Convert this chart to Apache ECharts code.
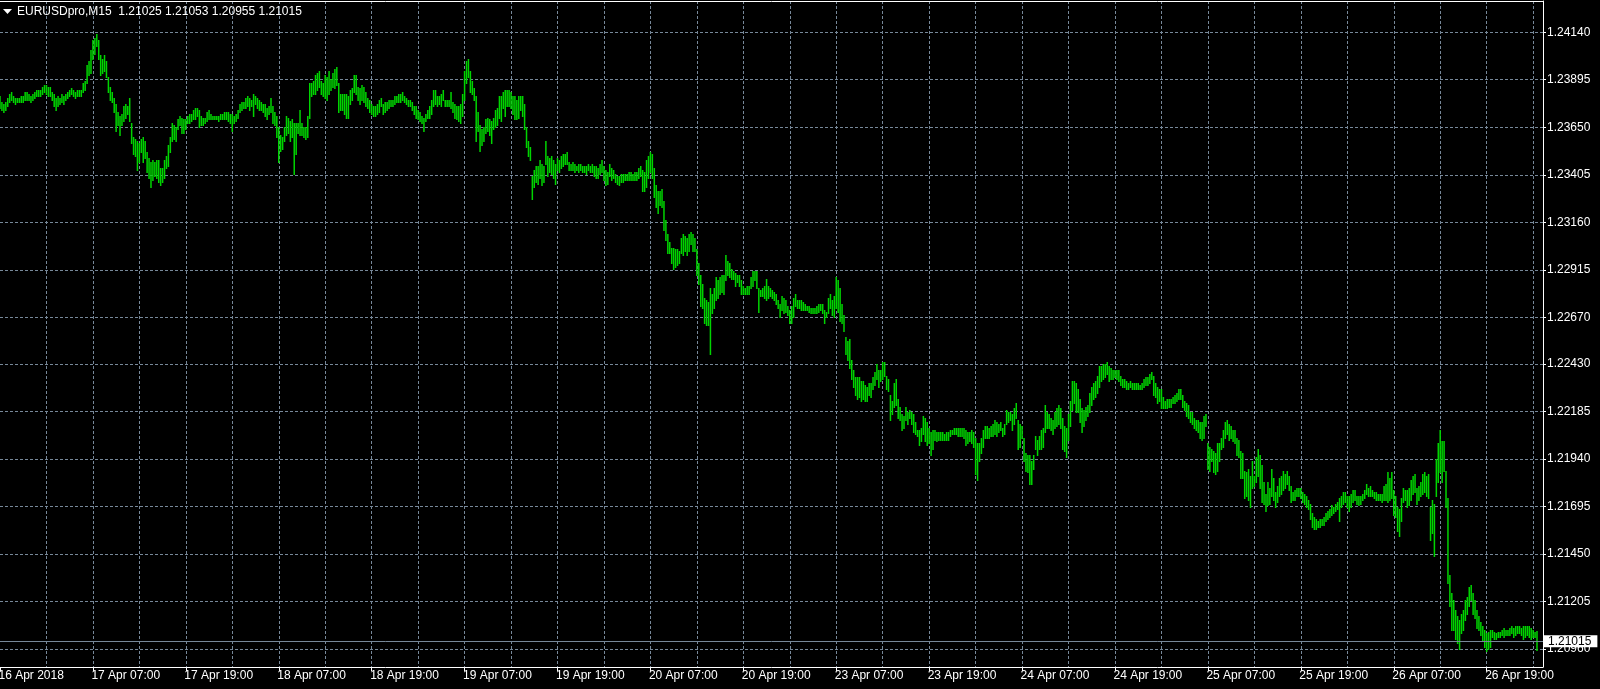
<!DOCTYPE html>
<html>
<head>
<meta charset="utf-8">
<script src="https://cdn.jsdelivr.net/npm/echarts@6/dist/echarts.min.js"></script>
<style>
html,body{margin:0;padding:0;background:#000;}
#chart{width:1600px;height:689px;}
</style>
</head>
<body>
<div id="chart"></div>
<script>
// ---------- data ----------
const symbolName = 'EURUSDpro,M15';
const lastBarOHLC = [1.21025, 1.21053, 1.20955, 1.21015];

const timeLabels = ['16 Apr 2018','17 Apr 07:00','17 Apr 19:00','18 Apr 07:00','18 Apr 19:00',
  '19 Apr 07:00','19 Apr 19:00','20 Apr 07:00','20 Apr 19:00','23 Apr 07:00','23 Apr 19:00',
  '24 Apr 07:00','24 Apr 19:00','25 Apr 07:00','25 Apr 19:00','26 Apr 07:00','26 Apr 19:00'];

const priceTicks = [1.20960,1.21205,1.21450,1.21695,1.21940,1.22185,1.22430,
  1.22670,1.22915,1.23160,1.23405,1.23650,1.23895,1.24140];

// M15 bar highs (one per bar, left to right)
const highs = [
1.2381,1.2378,1.2377,1.2378,1.2380,1.2382,1.2383,1.2381,1.2380,1.2380,
1.2380,1.2381,1.2381,1.2383,1.2383,1.2382,1.2381,1.2382,1.2383,1.2384,
1.2384,1.2384,1.2386,1.2387,1.2387,1.2386,1.2386,1.2383,1.2382,1.2380,
1.2381,1.2380,1.2382,1.2381,1.2382,1.2383,1.2384,1.2385,1.2384,1.2383,
1.2384,1.2384,1.2384,1.2388,1.2389,1.2397,1.2399,1.2405,1.2410,1.2411,
1.2413,1.2410,1.2402,1.2400,1.2402,1.2399,1.2391,1.2386,1.2383,1.2380,
1.2377,1.2373,1.2371,1.2372,1.2376,1.2377,1.2376,1.2380,1.2367,1.2360,
1.2359,1.2358,1.2357,1.2359,1.2360,1.2358,1.2352,1.2349,1.2347,1.2348,
1.2347,1.2348,1.2348,1.2344,1.2344,1.2348,1.2350,1.2356,1.2360,1.2367,
1.2366,1.2365,1.2369,1.2371,1.2370,1.2369,1.2369,1.2371,1.2372,1.2372,
1.2374,1.2375,1.2375,1.2374,1.2371,1.2370,1.2370,1.2373,1.2374,1.2372,
1.2371,1.2371,1.2371,1.2371,1.2372,1.2372,1.2373,1.2373,1.2373,1.2372,
1.2372,1.2371,1.2372,1.2374,1.2377,1.2378,1.2378,1.2380,1.2381,1.2380,
1.2379,1.2382,1.2381,1.2380,1.2379,1.2378,1.2377,1.2377,1.2375,1.2376,
1.2380,1.2376,1.2373,1.2371,1.2365,1.2361,1.2360,1.2365,1.2371,1.2370,
1.2368,1.2369,1.2367,1.2367,1.2367,1.2374,1.2367,1.2365,1.2365,1.2371,
1.2388,1.2388,1.2389,1.2392,1.2393,1.2394,1.2389,1.2388,1.2392,1.2391,
1.2394,1.2390,1.2393,1.2395,1.2396,1.2388,1.2382,1.2382,1.2382,1.2382,
1.2381,1.2384,1.2385,1.2392,1.2392,1.2386,1.2385,1.2387,1.2386,1.2383,
1.2380,1.2379,1.2377,1.2376,1.2376,1.2377,1.2379,1.2380,1.2377,1.2378,
1.2378,1.2379,1.2379,1.2379,1.2381,1.2381,1.2382,1.2382,1.2383,1.2381,
1.2380,1.2379,1.2379,1.2378,1.2376,1.2376,1.2374,1.2373,1.2371,1.2370,
1.2372,1.2374,1.2376,1.2379,1.2384,1.2384,1.2381,1.2381,1.2382,1.2384,
1.2379,1.2379,1.2379,1.2383,1.2378,1.2377,1.2376,1.2376,1.2377,1.2382,
1.2394,1.2399,1.2400,1.2394,1.2389,1.2385,1.2381,1.2373,1.2366,1.2364,
1.2365,1.2369,1.2370,1.2369,1.2368,1.2370,1.2374,1.2375,1.2381,1.2381,
1.2383,1.2384,1.2384,1.2384,1.2383,1.2381,1.2381,1.2379,1.2381,1.2381,
1.2381,1.2377,1.2365,1.2358,1.2355,1.2340,1.2343,1.2345,1.2345,1.2348,
1.2346,1.2345,1.2358,1.2350,1.2349,1.2350,1.2348,1.2346,1.2349,1.2348,
1.2350,1.2351,1.2351,1.2352,1.2347,1.2346,1.2347,1.2346,1.2345,1.2346,
1.2346,1.2345,1.2345,1.2345,1.2346,1.2345,1.2346,1.2345,1.2345,1.2344,
1.2346,1.2348,1.2345,1.2343,1.2342,1.2346,1.2344,1.2343,1.2341,1.2340,
1.2340,1.2341,1.2341,1.2341,1.2341,1.2342,1.2342,1.2341,1.2342,1.2342,
1.2344,1.2345,1.2343,1.2342,1.2348,1.2350,1.2352,1.2351,1.2344,1.2335,
1.2332,1.2332,1.2333,1.2327,1.2317,1.2310,1.2306,1.2303,1.2303,1.2302,
1.2302,1.2301,1.2308,1.2310,1.2309,1.2308,1.2310,1.2311,1.2310,1.2308,
1.2302,1.2295,1.2289,1.2284,1.2277,1.2276,1.2275,1.2282,1.2279,1.2282,
1.2288,1.2286,1.2288,1.2289,1.2289,1.2299,1.2296,1.2295,1.2292,1.2291,
1.2290,1.2289,1.2289,1.2286,1.2283,1.2282,1.2283,1.2283,1.2288,1.2291,
1.2291,1.2291,1.2282,1.2281,1.2282,1.2283,1.2287,1.2283,1.2282,1.2281,
1.2280,1.2279,1.2276,1.2274,1.2278,1.2277,1.2276,1.2273,1.2271,1.2273,
1.2277,1.2279,1.2276,1.2276,1.2276,1.2275,1.2274,1.2273,1.2273,1.2272,
1.2272,1.2272,1.2273,1.2274,1.2274,1.2274,1.2271,1.2270,1.2277,1.2279,
1.2276,1.2278,1.2288,1.2286,1.2282,1.2274,1.2268,1.2257,1.2255,1.2256,
1.2245,1.2240,1.2236,1.2236,1.2236,1.2234,1.2234,1.2232,1.2231,1.2233,
1.2233,1.2236,1.2239,1.2243,1.2240,1.2240,1.2244,1.2244,1.2237,1.2235,
1.2227,1.2224,1.2233,1.2235,1.2225,1.2221,1.2217,1.2216,1.2221,1.2218,
1.2219,1.2218,1.2217,1.2213,1.2209,1.2209,1.2210,1.2216,1.2215,1.2213,
1.2210,1.2208,1.2209,1.2209,1.2208,1.2208,1.2208,1.2208,1.2207,1.2208,
1.2208,1.2209,1.2209,1.2210,1.2210,1.2210,1.2210,1.2210,1.2210,1.2209,
1.2208,1.2208,1.2209,1.2208,1.2205,1.2202,1.2202,1.2205,1.2209,1.2211,
1.2211,1.2210,1.2211,1.2212,1.2214,1.2213,1.2212,1.2213,1.2210,1.2212,
1.2219,1.2218,1.2218,1.2217,1.2220,1.2223,1.2214,1.2212,1.2211,1.2205,
1.2197,1.2196,1.2196,1.2193,1.2196,1.2206,1.2204,1.2206,1.2209,1.2210,
1.2222,1.2218,1.2217,1.2215,1.2214,1.2218,1.2220,1.2222,1.2220,1.2215,
1.2211,1.2210,1.2217,1.2224,1.2234,1.2234,1.2233,1.2230,1.2225,1.2220,
1.2219,1.2221,1.2222,1.2228,1.2231,1.2233,1.2234,1.2237,1.2242,1.2242,
1.2243,1.2243,1.2244,1.2242,1.2241,1.2240,1.2240,1.2240,1.2240,1.2237,
1.2235,1.2235,1.2234,1.2233,1.2234,1.2233,1.2233,1.2233,1.2233,1.2232,
1.2233,1.2235,1.2236,1.2236,1.2238,1.2239,1.2237,1.2233,1.2231,1.2230,
1.2230,1.2226,1.2224,1.2225,1.2225,1.2225,1.2226,1.2227,1.2228,1.2230,
1.2230,1.2227,1.2224,1.2223,1.2222,1.2218,1.2218,1.2215,1.2214,1.2214,
1.2213,1.2213,1.2216,1.2217,1.2202,1.2200,1.2199,1.2198,1.2197,1.2202,
1.2202,1.2205,1.2209,1.2213,1.2214,1.2212,1.2211,1.2209,1.2209,1.2205,
1.2204,1.2198,1.2197,1.2188,1.2187,1.2189,1.2185,1.2193,1.2185,1.2195,
1.2199,1.2196,1.2191,1.2182,1.2176,1.2182,1.2179,1.2189,1.2184,1.2177,
1.2180,1.2184,1.2185,1.2188,1.2186,1.2188,1.2185,1.2180,1.2177,1.2178,
1.2179,1.2179,1.2179,1.2177,1.2176,1.2175,1.2173,1.2171,1.2166,1.2164,
1.2163,1.2162,1.2163,1.2163,1.2164,1.2166,1.2167,1.2168,1.2170,1.2169,
1.2171,1.2172,1.2174,1.2175,1.2177,1.2177,1.2175,1.2175,1.2176,1.2178,
1.2178,1.2175,1.2175,1.2175,1.2176,1.2178,1.2181,1.2179,1.2180,1.2178,
1.2177,1.2177,1.2176,1.2176,1.2176,1.2180,1.2181,1.2187,1.2184,1.2187,
1.2178,1.2175,1.2169,1.2168,1.2174,1.2179,1.2178,1.2178,1.2179,1.2183,
1.2185,1.2186,1.2179,1.2180,1.2182,1.2186,1.2187,1.2185,1.2186,1.2169,
1.2173,1.2171,1.2194,1.2202,1.2209,1.2203,1.2203,1.2188,1.2174,1.2134,
1.2125,1.2121,1.2116,1.2113,1.2111,1.2114,1.2116,1.2121,1.2123,1.2128,
1.2129,1.2125,1.2121,1.2116,1.2113,1.2110,1.2108,1.2106,1.2104,1.2105,
1.2106,1.2106,1.2105,1.2104,1.2105,1.2105,1.2106,1.2107,1.2106,1.2106,
1.2107,1.2108,1.2107,1.2108,1.2108,1.2108,1.2107,1.2108,1.2108,1.2108,
1.2108,1.2107,1.2106,1.2105,1.21053
];

// M15 bar lows (one per bar, left to right)
const lows = [
1.2375,1.2374,1.2373,1.2374,1.2376,1.2378,1.2379,1.2378,1.2377,1.2378,
1.2378,1.2378,1.2378,1.2379,1.2379,1.2379,1.2378,1.2379,1.2380,1.2381,
1.2381,1.2381,1.2382,1.2383,1.2382,1.2381,1.2381,1.2379,1.2376,1.2374,
1.2376,1.2377,1.2378,1.2377,1.2379,1.2380,1.2381,1.2382,1.2381,1.2380,
1.2381,1.2381,1.2381,1.2383,1.2384,1.2388,1.2392,1.2393,1.2400,1.2403,
1.2407,1.2400,1.2392,1.2393,1.2394,1.2391,1.2383,1.2379,1.2378,1.2373,
1.2363,1.2366,1.2361,1.2366,1.2368,1.2370,1.2372,1.2368,1.2357,1.2351,
1.2350,1.2343,1.2347,1.2352,1.2347,1.2349,1.2342,1.2339,1.2334,1.2338,
1.2340,1.2339,1.2337,1.2335,1.2337,1.2339,1.2344,1.2345,1.2352,1.2358,
1.2359,1.2358,1.2364,1.2366,1.2362,1.2362,1.2364,1.2367,1.2367,1.2368,
1.2369,1.2369,1.2371,1.2365,1.2366,1.2366,1.2367,1.2368,1.2369,1.2369,
1.2369,1.2369,1.2369,1.2368,1.2369,1.2369,1.2369,1.2369,1.2368,1.2367,
1.2363,1.2367,1.2368,1.2370,1.2373,1.2374,1.2375,1.2375,1.2376,1.2374,
1.2376,1.2371,1.2377,1.2375,1.2374,1.2374,1.2373,1.2371,1.2369,1.2372,
1.2373,1.2367,1.2366,1.2360,1.2347,1.2353,1.2354,1.2358,1.2361,1.2362,
1.2358,1.2360,1.2341,1.2351,1.2362,1.2361,1.2361,1.2360,1.2359,1.2360,
1.2370,1.2381,1.2382,1.2382,1.2384,1.2386,1.2382,1.2381,1.2380,1.2379,
1.2382,1.2384,1.2386,1.2385,1.2387,1.2373,1.2374,1.2374,1.2372,1.2370,
1.2370,1.2377,1.2379,1.2383,1.2382,1.2379,1.2377,1.2379,1.2378,1.2376,
1.2375,1.2373,1.2372,1.2371,1.2371,1.2372,1.2373,1.2376,1.2372,1.2373,
1.2374,1.2375,1.2376,1.2376,1.2377,1.2378,1.2378,1.2378,1.2379,1.2378,
1.2377,1.2376,1.2376,1.2374,1.2372,1.2370,1.2369,1.2368,1.2367,1.2363,
1.2368,1.2370,1.2370,1.2372,1.2376,1.2377,1.2376,1.2377,1.2376,1.2379,
1.2376,1.2376,1.2376,1.2375,1.2373,1.2370,1.2369,1.2368,1.2367,1.2371,
1.2379,1.2388,1.2391,1.2383,1.2382,1.2379,1.2358,1.2363,1.2353,1.2356,
1.2358,1.2362,1.2363,1.2361,1.2357,1.2364,1.2365,1.2366,1.2370,1.2368,
1.2375,1.2371,1.2376,1.2376,1.2375,1.2372,1.2369,1.2369,1.2370,1.2374,
1.2371,1.2364,1.2355,1.2350,1.2348,1.2328,1.2334,1.2337,1.2336,1.2339,
1.2335,1.2337,1.2346,1.2340,1.2342,1.2341,1.2339,1.2336,1.2343,1.2342,
1.2344,1.2345,1.2346,1.2346,1.2343,1.2343,1.2343,1.2342,1.2343,1.2342,
1.2343,1.2342,1.2342,1.2341,1.2343,1.2342,1.2342,1.2340,1.2339,1.2339,
1.2341,1.2342,1.2338,1.2335,1.2336,1.2340,1.2338,1.2339,1.2337,1.2336,
1.2335,1.2337,1.2337,1.2338,1.2338,1.2338,1.2338,1.2338,1.2338,1.2338,
1.2339,1.2340,1.2332,1.2332,1.2334,1.2339,1.2342,1.2339,1.2329,1.2324,
1.2321,1.2325,1.2324,1.2312,1.2307,1.2300,1.2300,1.2295,1.2292,1.2293,
1.2294,1.2295,1.2300,1.2299,1.2301,1.2299,1.2301,1.2305,1.2301,1.2301,
1.2289,1.2284,1.2273,1.2272,1.2264,1.2263,1.2263,1.2248,1.2269,1.2272,
1.2276,1.2277,1.2279,1.2280,1.2279,1.2286,1.2289,1.2288,1.2287,1.2287,
1.2283,1.2285,1.2283,1.2279,1.2279,1.2279,1.2279,1.2279,1.2282,1.2283,
1.2286,1.2282,1.2270,1.2278,1.2278,1.2277,1.2276,1.2277,1.2278,1.2277,
1.2276,1.2274,1.2272,1.2267,1.2271,1.2269,1.2270,1.2268,1.2264,1.2264,
1.2267,1.2273,1.2272,1.2272,1.2271,1.2271,1.2271,1.2271,1.2270,1.2269,
1.2269,1.2269,1.2269,1.2270,1.2271,1.2269,1.2264,1.2267,1.2269,1.2272,
1.2268,1.2267,1.2272,1.2270,1.2265,1.2264,1.2260,1.2248,1.2245,1.2241,
1.2235,1.2231,1.2227,1.2225,1.2226,1.2224,1.2225,1.2224,1.2224,1.2227,
1.2226,1.2230,1.2232,1.2235,1.2231,1.2234,1.2235,1.2237,1.2230,1.2229,
1.2214,1.2217,1.2221,1.2222,1.2215,1.2214,1.2209,1.2210,1.2214,1.2212,
1.2215,1.2212,1.2208,1.2207,1.2206,1.2201,1.2203,1.2207,1.2203,1.2201,
1.2202,1.2196,1.2199,1.2204,1.2203,1.2204,1.2204,1.2204,1.2204,1.2204,
1.2204,1.2206,1.2207,1.2207,1.2207,1.2206,1.2206,1.2206,1.2205,1.2201,
1.2202,1.2203,1.2202,1.2200,1.2186,1.2183,1.2193,1.2197,1.2200,1.2205,
1.2205,1.2205,1.2206,1.2206,1.2207,1.2206,1.2208,1.2209,1.2206,1.2207,
1.2212,1.2213,1.2214,1.2209,1.2212,1.2215,1.2199,1.2200,1.2205,1.2193,
1.2188,1.2187,1.2181,1.2181,1.2189,1.2199,1.2196,1.2199,1.2199,1.2200,
1.2208,1.2210,1.2210,1.2209,1.2207,1.2210,1.2211,1.2212,1.2210,1.2199,
1.2198,1.2195,1.2204,1.2211,1.2219,1.2223,1.2218,1.2218,1.2213,1.2208,
1.2211,1.2214,1.2216,1.2218,1.2222,1.2225,1.2226,1.2228,1.2231,1.2234,
1.2235,1.2236,1.2238,1.2234,1.2235,1.2235,1.2236,1.2235,1.2234,1.2232,
1.2231,1.2231,1.2230,1.2230,1.2231,1.2230,1.2230,1.2230,1.2230,1.2230,
1.2230,1.2231,1.2232,1.2232,1.2233,1.2235,1.2227,1.2226,1.2223,1.2224,
1.2220,1.2220,1.2220,1.2220,1.2221,1.2221,1.2223,1.2223,1.2224,1.2225,
1.2225,1.2221,1.2219,1.2216,1.2215,1.2213,1.2212,1.2210,1.2209,1.2208,
1.2205,1.2204,1.2205,1.2211,1.2189,1.2188,1.2193,1.2187,1.2186,1.2188,
1.2193,1.2199,1.2200,1.2205,1.2207,1.2204,1.2205,1.2203,1.2202,1.2196,
1.2195,1.2184,1.2184,1.2174,1.2175,1.2173,1.2169,1.2179,1.2180,1.2182,
1.2185,1.2179,1.2172,1.2171,1.2167,1.2170,1.2171,1.2175,1.2173,1.2169,
1.2172,1.2175,1.2176,1.2178,1.2179,1.2181,1.2178,1.2172,1.2173,1.2173,
1.2175,1.2175,1.2174,1.2172,1.2171,1.2169,1.2168,1.2163,1.2159,1.2158,
1.2158,1.2159,1.2159,1.2160,1.2160,1.2162,1.2163,1.2164,1.2165,1.2166,
1.2167,1.2168,1.2162,1.2169,1.2171,1.2172,1.2169,1.2167,1.2169,1.2172,
1.2173,1.2171,1.2170,1.2171,1.2173,1.2174,1.2176,1.2175,1.2175,1.2175,
1.2174,1.2173,1.2173,1.2173,1.2172,1.2173,1.2173,1.2172,1.2173,1.2174,
1.2165,1.2164,1.2157,1.2154,1.2162,1.2172,1.2173,1.2169,1.2170,1.2173,
1.2176,1.2177,1.2171,1.2173,1.2175,1.2176,1.2177,1.2175,1.2174,1.2152,
1.2156,1.2144,1.2175,1.2182,1.2187,1.2182,1.2188,1.2169,1.2130,1.2118,
1.2106,1.2106,1.2101,1.2099,1.2096,1.2104,1.2106,1.2111,1.2114,1.2118,
1.2121,1.2114,1.2112,1.2107,1.2106,1.2103,1.2100,1.2097,1.2095,1.2096,
1.2097,1.2102,1.2101,1.2101,1.2102,1.2102,1.2103,1.2102,1.2103,1.2103,
1.2103,1.2104,1.2102,1.2103,1.2104,1.2104,1.2103,1.2101,1.2102,1.2103,
1.2102,1.2101,1.2102,1.2102,1.20955
];

// ---------- styling / layout ----------
const GREEN = '#00d400';
const GRID_COLOR = '#778899';
const FG = '#ffffff';
const FONT = '"Liberation Sans", Arial, sans-serif';
const BARS_PER_GRID = 24;
const BARS_PER_LABEL = 48;
const X_MIN = 0, X_MAX = 797.1;
const Y_MIN = 1.20867, Y_MAX = 1.24301;

const barData = highs.map((h, i) => [i, lows[i], h]);
const lastIndex = highs.length - 1;
const gridBars = [];
for (let b = BARS_PER_GRID; b <= lastIndex; b += BARS_PER_GRID) gridBars.push(b);
const labelBars = timeLabels.map((_, k) => k * BARS_PER_LABEL);

function renderBar(params, api) {
  const i = api.value(0);
  const lo = api.coord([i, api.value(1)]);
  const hi = api.coord([i, api.value(2)]);
  const yTop = Math.round(hi[1]);
  const yBot = Math.round(lo[1]);
  return {
    type: 'rect',
    shape: { x: lo[0] - 0.75, y: yTop, width: 1.5, height: Math.max(1, yBot - yTop + 1) },
    style: { fill: GREEN }
  };
}

const hiddenAxis = { axisLine: { show: false }, axisTick: { show: false }, axisLabel: { show: false }, splitLine: { show: false } };

const chart = echarts.init(document.getElementById('chart'), null, { renderer: 'canvas' });
chart.setOption({
  backgroundColor: '#000000',
  animation: false,
  grid: [
    { left: 0, right: 57, top: 1, bottom: 22, containLabel: false, outerBoundsMode: 'none' },
    // same plot size, nudged 1.5px left: carries only the time labels
    { left: -1.5, right: 58.5, top: 1, bottom: 22, containLabel: false, outerBoundsMode: 'none' }
  ],
  graphic: [
    { type: 'polygon', shape: { points: [[3, 9], [12, 9], [7.5, 14]] }, style: { fill: FG } },
    { type: 'text', x: 17, y: 12, style: {
        text: symbolName + '  ' + lastBarOHLC.map(v => v.toFixed(5)).join(' '),
        fill: FG, font: '12px ' + FONT, verticalAlign: 'middle', align: 'left' } }
  ],
  xAxis: [
    { type: 'value', gridIndex: 0, min: X_MIN, max: X_MAX, position: 'bottom',
      axisLine: { show: true, onZero: false, lineStyle: { color: FG, width: 1 } },
      axisTick: { show: false, customValues: gridBars },
      axisLabel: { show: false },
      splitLine: { show: true, lineStyle: { color: GRID_COLOR, width: 1, type: [3, 2] } } },
    { type: 'value', gridIndex: 0, min: X_MIN, max: X_MAX, position: 'bottom',
      axisLine: { show: false, onZero: false },
      axisTick: { show: true, customValues: labelBars, length: 4, lineStyle: { color: FG } },
      axisLabel: { show: false },
      splitLine: { show: false } },
    { type: 'value', gridIndex: 0, min: X_MIN, max: X_MAX, position: 'top',
      axisLine: { show: true, onZero: false, lineStyle: { color: FG, width: 1 } },
      axisTick: { show: false }, axisLabel: { show: false }, splitLine: { show: false } },
    { type: 'value', gridIndex: 1, min: X_MIN, max: X_MAX, position: 'bottom',
      axisLine: { show: false, onZero: false },
      axisTick: { show: false, customValues: labelBars },
      axisLabel: { show: true, customValues: labelBars,
        formatter: v => timeLabels[Math.round(v / BARS_PER_LABEL)] || '',
        color: FG, fontSize: 12, fontFamily: FONT, align: 'left', margin: 3 },
      splitLine: { show: false } }
  ],
  yAxis: [
    { type: 'value', gridIndex: 0, min: Y_MIN, max: Y_MAX, position: 'right',
      axisLine: { show: true, onZero: false, lineStyle: { color: FG, width: 1 } },
      axisTick: { show: true, customValues: priceTicks, length: 3, lineStyle: { color: FG } },
      axisLabel: { show: true, customValues: priceTicks, formatter: v => v.toFixed(5),
        color: FG, fontSize: 12, fontFamily: FONT, margin: 4 },
      splitLine: { show: true, lineStyle: { color: GRID_COLOR, width: 1, type: [3, 2] } } },
    Object.assign({ type: 'value', gridIndex: 1, min: Y_MIN, max: Y_MAX, position: 'right' }, hiddenAxis)
  ],
  series: [
    { type: 'custom', name: symbolName, xAxisIndex: 0, yAxisIndex: 0,
      renderItem: renderBar, data: barData, encode: { x: 0, y: [1, 2] },
      clip: true, silent: true,
      markLine: {
        silent: true, symbol: 'none', animation: false,
        lineStyle: { color: GRID_COLOR, type: 'solid', width: 1 },
        label: { show: true, position: 'end', distance: 1,
          formatter: lastBarOHLC[3].toFixed(5),
          color: '#000000', backgroundColor: '#ffffff', fontSize: 12, fontFamily: FONT,
          lineHeight: 12, padding: [0, 6, 0, 4] },
        data: [{ yAxis: lastBarOHLC[3] }]
      } }
  ]
});
</script>
</body>
</html>
